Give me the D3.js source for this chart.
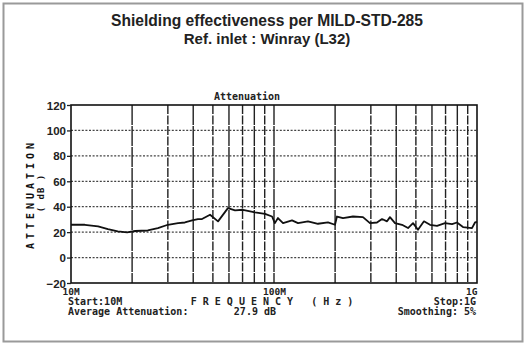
<!DOCTYPE html>
<html><head><meta charset="utf-8">
<script src="https://cdn.jsdelivr.net/npm/d3@7"></script>
<style>
html,body{margin:0;padding:0;background:#fff;}
svg{display:block;}
text{white-space:pre;}
</style></head>
<body>
<script>
// ---- data ----
const titleLines = ["Shielding effectiveness per MILD-STD-285", "Ref. inlet : Winray (L32)"];
const freqMHz = [10, 11.7, 13.6, 15.2, 17.0, 18.9, 20.7, 23.9, 26.8, 30.0, 33.7, 36.4, 39.5, 42.2, 44.2, 48.4, 53.0, 59.3, 64.3, 70.3, 80.6, 90.3, 97.8, 101, 104.6, 110.8, 122.7, 131.3, 147, 164.7, 184.5, 199.7, 204.3, 218.7, 245, 274.3, 297, 321.5, 340.5, 360.4, 372.6, 394.5, 427.2, 457.3, 484.1, 512, 548, 586.7, 635.5, 695.7, 753.3, 796.7, 853, 944.6, 977.7, 1000];
const attenDb = [25.8, 25.8, 24.5, 22.4, 20.6, 19.8, 20.9, 21.3, 23.2, 25.8, 27.1, 27.6, 29.2, 30.3, 30.3, 33.7, 28.5, 38.9, 37.1, 37.6, 35.5, 34.4, 32.3, 27.1, 31.1, 27.1, 29.2, 27.1, 28.5, 26.6, 27.6, 25.8, 32.3, 31.1, 32.3, 31.8, 27.1, 27.6, 30.3, 28.5, 31.8, 27.1, 25.8, 23.2, 27.1, 21.9, 28.5, 25.8, 25.0, 27.1, 26.3, 27.6, 24.0, 23.2, 27.6, 28.0];
const yTicks = [-20, 0, 20, 40, 60, 80, 100, 120];
const xTickVals = [1e7, 1e8, 1e9];
const xTickLabels = ["10M", "100M", "1G"];
const chartLabel = "Attenuation";
const yTitle = "ATTENUATION";
const yUnit = "( dB )";
const startText = "Start:10M";
const stopText = "Stop:1G";
const freqText = "F R E Q U E N C Y   ( H z )";
const avgLabel = "Average Attenuation:";
const avgValue = "27.9 dB";
const smoothText = "Smoothing: 5%";

// ---- drawing ----
const W = 528, H = 356;
const svg = d3.select("body").append("svg").attr("width", W).attr("height", H);
svg.append("rect").attr("x", 3.5).attr("y", 3.5).attr("width", 519).attr("height", 338)
  .attr("fill", "#fff").attr("stroke", "#9a9a9a").attr("stroke-width", 2);

const x = d3.scaleLog().domain([1e7, 1e9]).range([71, 477]);
const y = d3.scaleLinear().domain([-20, 120]).range([283, 105]);

// titles
svg.selectAll("text.title").data(titleLines).join("text")
  .attr("x", 267).attr("y", (d, i) => 26 + i * 18)
  .attr("text-anchor", "middle")
  .attr("font-family", "Liberation Sans, Arial, sans-serif")
  .attr("font-weight", "bold")
  .attr("font-size", (d, i) => i === 0 ? 15.6 : 15)
  .attr("fill", "#222")
  .text(d => d);

const mono = "DejaVu Sans Mono, Liberation Mono, monospace";

// horizontal dotted grid
const hLines = yTicks.filter(v => v > -20 && v < 120);
svg.append("g").selectAll("line").data(hLines).join("line")
  .attr("x1", x(1e7)).attr("x2", x(1e9))
  .attr("y1", d => y(d)).attr("y2", d => y(d))
  .attr("stroke", "#444").attr("stroke-width", 1.2).attr("stroke-dasharray", "2,1.6");

// vertical grid lines
const vVals = [];
for (let dec = 1e7; dec < 1e9; dec *= 10) for (let k = 2; k <= 9; k++) vVals.push(dec * k);
vVals.push(1e8);
svg.append("g").selectAll("line").data(vVals).join("line")
  .attr("x1", d => x(d)).attr("x2", d => x(d))
  .attr("y1", y(120)).attr("y2", y(-20))
  .attr("stroke", "#222").attr("stroke-width", 1.4)
  .attr("stroke-dasharray", (d, i) => i % 2 ? "9,1.5" : "20,1");

// frame
svg.append("rect").attr("x", x(1e7)).attr("y", y(120))
  .attr("width", x(1e9) - x(1e7)).attr("height", y(-20) - y(120))
  .attr("fill", "none").attr("stroke", "#111").attr("stroke-width", 1.6);

// y axis
const yAxis = d3.axisLeft(y).tickValues(yTicks).tickSize(4).tickPadding(1).tickFormat(d3.format("d"));
const ga = svg.append("g").attr("transform", `translate(${x(1e7)},0)`).call(yAxis);
ga.select(".domain").remove();
ga.selectAll(".tick line").attr("stroke", "#222").attr("stroke-width", 1.3);
ga.selectAll(".tick text").attr("font-family", "Liberation Sans, Arial, sans-serif")
  .attr("font-size", 11.5).attr("fill", "#222").attr("font-weight", "bold").attr("dy", "0.36em");

// x axis labels
const xAxis = d3.axisBottom(x).tickValues(xTickVals).tickSize(0).tickPadding(0)
  .tickFormat((d, i) => xTickLabels[i]);
const gx = svg.append("g").attr("transform", `translate(0,${y(-20)})`).call(xAxis);
gx.select(".domain").remove();
gx.selectAll(".tick text").attr("font-family", mono).attr("font-size", 9.5).attr("font-weight", "bold")
  .attr("fill", "#222").attr("dy", 0).attr("y", 11.5)
  .attr("text-anchor", (d, i) => i === 0 ? "start" : (i === 2 ? "end" : "middle"))
  .attr("dx", (d, i) => i === 0 ? -9 : 0);

// curve
const pts = freqMHz.map((f, i) => [f * 1e6, attenDb[i]]);
svg.append("path").datum(pts)
  .attr("d", d3.line().x(d => x(d[0])).y(d => y(d[1])))
  .attr("fill", "none").attr("stroke", "#111").attr("stroke-width", 1.8).attr("stroke-linejoin", "round");

// chart label
svg.append("text").attr("x", 247).attr("y", 100).attr("text-anchor", "middle")
  .attr("font-family", mono).attr("font-size", 10).attr("font-weight", "bold").attr("fill", "#222")
  .text(chartLabel);

// y titles
svg.append("text").attr("transform", "translate(34,194) rotate(-90)").attr("text-anchor", "middle")
  .attr("font-family", mono).attr("font-size", 10).attr("font-weight", "bold")
  .attr("letter-spacing", 4).attr("fill", "#111").text(yTitle);
svg.append("text").attr("transform", "translate(44,193) rotate(-90)").attr("text-anchor", "middle")
  .attr("font-family", mono).attr("font-size", 9).attr("font-weight", "bold")
  .attr("letter-spacing", 1).attr("fill", "#111").text(yUnit);

// bottom texts
const bt = (txt, xx, yy, anchor) => svg.append("text").attr("x", xx).attr("y", yy)
  .attr("text-anchor", anchor).attr("font-family", mono).attr("font-size", 10)
  .attr("font-weight", "bold").attr("fill", "#222").text(txt);
bt(startText, 68, 305, "start");
bt(freqText, 272, 304.5, "middle");
bt(stopText, 476, 305, "end");
bt(avgLabel, 68, 315, "start");
bt(avgValue, 276, 315, "end");
bt(smoothText, 476, 315, "end");
</script>
</body></html>
